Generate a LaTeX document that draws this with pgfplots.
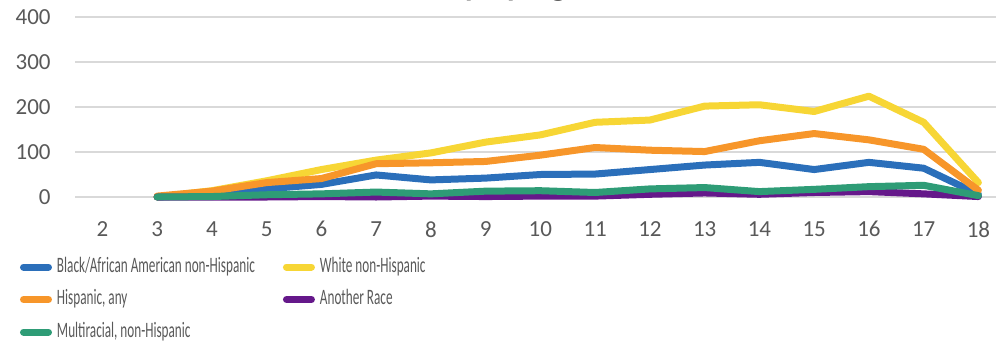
\documentclass[border=0pt]{standalone}
\usepackage{graphicx}
\usepackage{fontspec}
\setmainfont{Carlito}
\usepackage{pgfplots}
\pgfplotsset{compat=1.18}
\usepackage{pgfplotstable}

\definecolor{cBlack}{HTML}{2B6FBA}
\definecolor{cWhite}{HTML}{F7D635}
\definecolor{cHisp}{HTML}{F7962A}
\definecolor{cOther}{HTML}{65188A}
\definecolor{cMulti}{HTML}{2E9C76}
\definecolor{tickgray}{HTML}{595959}
\definecolor{gridgray}{HTML}{D9D9D9}

% Counts by age (3--18) for each group
\pgfplotstableread{
age black white hisp other multi
3   0     0     2    0     0
4   5     14    13   0     1
5   18    36    32   0     5
6   28    61    41   1     7
7   49    82    74   0     11
8   38    98    76   2     7
9   42    122   79   1     13
10  50    138   93   2     14
11  51    166   110  2     10
12  61    171   104  6     18
13  71    202   101  9     21
14  77    205   125  6     12
15  61    190   141  10    17
16  77    224   127  12    23
17  64    166   106  7     26
18  6     32    15   1     3
}\agedata

% narrow legend lettering
\newcommand{\lgd}[1]{\scalebox{0.6}[1]{#1}}

\begin{document}
\begin{tikzpicture}
\begin{axis}[
  at={(37.5pt,73.5pt)}, anchor=south west,
  scale only axis,
  width=465.4pt, height=90pt,
  xmin=1.5, xmax=18.5,
  ymin=0, ymax=400,
  xtick={2,...,18},
  ytick={0,100,...,400},
  major tick length=0pt,
  axis line style={draw=none},
  ymajorgrids,
  grid style={gridgray, line width=0.75pt},
  clip=false,
  tick label style={font=\fontsize{11.5}{13}\selectfont, text=tickgray},
  /pgf/number format/assume math mode=true,
  y tick label style={inner sep=0pt, xshift=-12pt},
  x tick label style={inner sep=0pt, yshift=-12pt},
  every axis plot/.append style={line width=3.5pt, line join=round, line cap=round},
  legend columns=2,
  legend style={
    at={(0,0)}, anchor=north west, xshift=-27.5pt, yshift=-30pt,
    draw=none, fill=none, inner sep=0pt, outer sep=0pt,
    font=\fontsize{11}{13}\selectfont, text=tickgray,
    nodes={inner sep=0pt, text height=7.5pt, text depth=2.5pt, anchor=west},
    row sep=6.25pt,
    /tikz/every odd column/.append style={column sep=2.5pt},
    /tikz/every even column/.append style={column sep=14pt},
  },
  legend image code/.code={
    \draw[#1, line width=3.5pt, line cap=round] (1.75pt,0pt) -- (14.25pt,0pt);
  },
]
\addplot[cBlack] table[x=age, y=black] {\agedata};
\addlegendentry{\lgd{Black/African American non-Hispanic}}
\addplot[cWhite] table[x=age, y=white] {\agedata};
\addlegendentry{\lgd{White non-Hispanic}}
\addplot[cHisp] table[x=age, y=hisp] {\agedata};
\addlegendentry{\lgd{Hispanic, any}}
\addplot[cOther] table[x=age, y=other] {\agedata};
\addlegendentry{\lgd{Another Race}}
\addplot[cMulti] table[x=age, y=multi] {\agedata};
\addlegendentry{\lgd{Multiracial, non-Hispanic}}
\end{axis}
% chart title, set above the top edge of the page
\node[anchor=base west, inner sep=0pt, text=black!80]
  at (136.5pt,174.2pt) {\bfseries\fontsize{17.1}{20}\selectfont Race/Ethnicity by Age};
\pgfresetboundingbox
\useasboundingbox (0pt,0pt) rectangle (498pt,172pt);
\end{tikzpicture}
\end{document}
